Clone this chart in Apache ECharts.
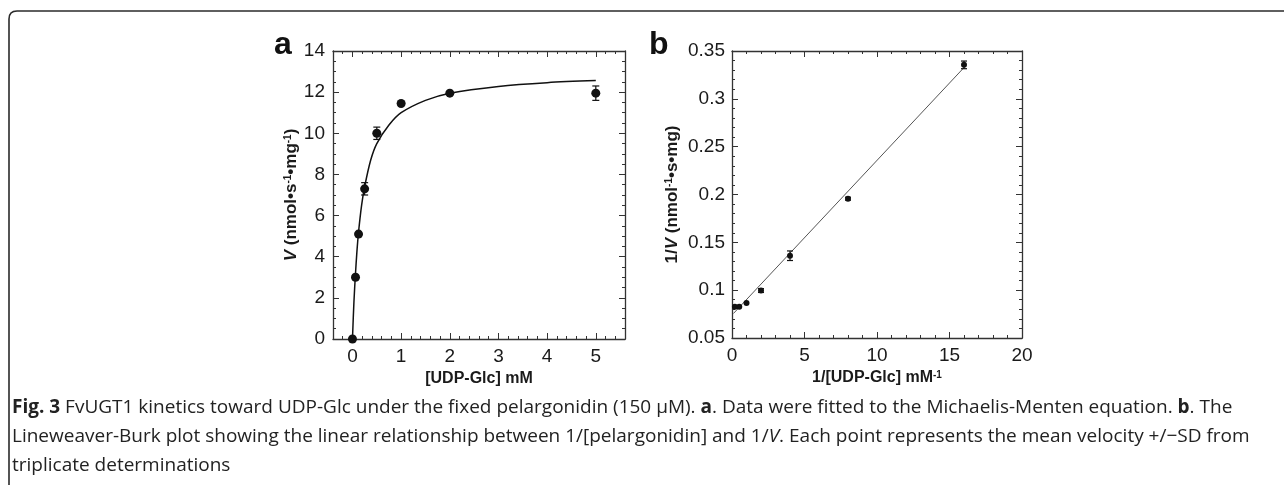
<!DOCTYPE html>
<html>
<head>
<meta charset="utf-8">
<script src="https://cdn.jsdelivr.net/npm/echarts@6/dist/echarts.min.js"></script>
<style>
  html, body { margin: 0; padding: 0; background: #fff; }
  #main { width: 1284px; height: 485px; }
</style>
</head>
<body>
<div id="main"></div>
<script>
// panel a: Michaelis-Menten
const concA = [0, 0.0625, 0.125, 0.25, 0.5, 1, 2, 5]
const velA = [0, 3.0, 5.1, 7.3, 10.0, 11.45, 11.95, 11.95]
const sdA = [0, 0, 0, 0.3, 0.3, 0, 0, 0.35]
// fitted curve
const fitX = [0, 0.03, 0.0625, 0.09, 0.125, 0.1875, 0.25, 0.375, 0.5, 0.75, 1, 1.5, 2, 3, 4, 5]
const fitV = [0, 1.8, 3.2, 4.2, 5.2, 6.5, 7.4, 8.7, 9.5, 10.4, 11.0, 11.6, 11.95, 12.28, 12.46, 12.56]
const ticksA = [0, 1, 2, 3, 4, 5]

// panel b: Lineweaver-Burk
const invConcB = [16, 8, 4, 2, 1, 0.5, 0.2]
const invVelB = [0.3355, 0.1956, 0.136, 0.0996, 0.0867, 0.0826, 0.0826]
const sdB = [0.004, 0.0015, 0.005, 0.002, 0, 0, 0]
const lineBX = [0.1, 16]
const lineBY = [0.0756, 0.3327]

const AXIS = '#333'
const TEXT = '#1a1a1a'
const tickFont = { fontFamily: 'Liberation Sans, Arial', fontSize: 19, color: TEXT }

var myChart = echarts.init(document.getElementById('main'))

const pairs = (xs, ys, es) => xs.map((x, i) => es ? [x, ys[i], es[i]] : [x, ys[i]])

const errorBars = (xi, yi, data, cap) => ({
  type: 'custom',
  xAxisIndex: xi,
  yAxisIndex: yi,
  data: data,
  z: 3,
  renderItem: function (params, api) {
    const x = api.value(0), y = api.value(1), e = api.value(2)
    if (!e) return null
    const top = api.coord([x, y + e])
    const bot = api.coord([x, y - e])
    const st = { stroke: '#111', lineWidth: 1.2 }
    return {
      type: 'group',
      children: [
        { type: 'line', shape: { x1: top[0], y1: top[1], x2: bot[0], y2: bot[1] }, style: st },
        { type: 'line', shape: { x1: top[0] - cap, y1: top[1], x2: top[0] + cap, y2: top[1] }, style: st },
        { type: 'line', shape: { x1: bot[0] - cap, y1: bot[1], x2: bot[0] + cap, y2: bot[1] }, style: st }
      ]
    }
  }
})

const line = { show: true, onZero: false, lineStyle: { color: AXIS, width: 1.3 } }
const noLine = { show: false, onZero: false }

const titleFont = (size) => ({
  fontFamily: 'Liberation Sans, Arial', fontWeight: 'bold', fontSize: size, color: TEXT,
  rich: {
    i: { fontStyle: 'italic', fontWeight: 'bold', fontSize: size, color: TEXT },
    s: { fontSize: Math.round(size * 0.6), fontWeight: 'bold', verticalAlign: 'top', color: TEXT }
  }
})

// x axes of panel a: minor ticks axis + major ticks axis
const xAxisA = (pos, labels) => [
  {
    gridIndex: 0, type: 'value', position: pos, min: -0.4, max: 5.6, interval: 0.2,
    axisLine: line, splitLine: { show: false },
    axisTick: { inside: true, length: 3, lineStyle: { color: AXIS } },
    axisLabel: labels ? Object.assign({ customValues: ticksA, margin: 8 }, tickFont) : { show: false },
    name: labels ? '[UDP-Glc] mM' : '', nameLocation: 'middle', nameGap: 32, nameMoveOverlap: false,
    nameTextStyle: titleFont(16)
  },
  {
    gridIndex: 0, type: 'value', position: pos, min: -0.4, max: 5.6,
    axisLine: noLine, splitLine: { show: false },
    axisTick: { inside: true, length: 6, customValues: ticksA, lineStyle: { color: AXIS } },
    axisLabel: { show: false }
  }
]

const borderStyle = { fill: null, stroke: '#2a2a2a', lineWidth: 1.6 }
const dot = { color: '#111', opacity: 1 }

const option = {
  animation: false,
  backgroundColor: '#fff',
  grid: [
    { left: 333, top: 51, width: 292, height: 288 },
    { left: 732, top: 51, width: 290, height: 287 }
  ],
  xAxis: [
    ...xAxisA('bottom', true),
    ...xAxisA('top', false),
    {
      gridIndex: 1, type: 'value', position: 'bottom', min: 0, max: 20, interval: 5,
      axisLine: line, splitLine: { show: false },
      axisTick: { inside: true, length: 6, lineStyle: { color: AXIS } },
      minorTick: { show: true, splitNumber: 5, length: 3, lineStyle: { color: AXIS } },
      axisLabel: Object.assign({ margin: 8 }, tickFont),
      name: '1/[UDP-Glc] mM{s|-1}', nameLocation: 'middle', nameGap: 32, nameMoveOverlap: false,
      nameTextStyle: titleFont(16)
    },
    {
      gridIndex: 1, type: 'value', position: 'top', min: 0, max: 20, interval: 5,
      axisLine: line, splitLine: { show: false },
      axisTick: { inside: true, length: 6, lineStyle: { color: AXIS } },
      minorTick: { show: true, splitNumber: 5, length: 3, lineStyle: { color: AXIS } },
      axisLabel: { show: false }
    }
  ],
  yAxis: [
    {
      gridIndex: 0, type: 'value', position: 'left', min: 0, max: 14, interval: 2,
      axisLine: line, splitLine: { show: false },
      axisTick: { inside: true, length: 6, lineStyle: { color: AXIS } },
      minorTick: { show: true, splitNumber: 4, length: 3, lineStyle: { color: AXIS } },
      axisLabel: Object.assign({ margin: 8 }, tickFont),
      name: '{i|V} (nmol•s{s|-1}•mg{s|-1})', nameLocation: 'middle', nameGap: 31, nameRotate: 90,
      nameTextStyle: titleFont(17)
    },
    {
      gridIndex: 0, type: 'value', position: 'right', min: 0, max: 14, interval: 2,
      axisLine: line, splitLine: { show: false },
      axisTick: { inside: true, length: 6, lineStyle: { color: AXIS } },
      minorTick: { show: true, splitNumber: 4, length: 3, lineStyle: { color: AXIS } },
      axisLabel: { show: false }
    },
    {
      gridIndex: 1, type: 'value', position: 'left', min: 0.05, max: 0.35, interval: 0.05,
      axisLine: line, splitLine: { show: false },
      axisTick: { inside: true, length: 6, lineStyle: { color: AXIS } },
      minorTick: { show: true, splitNumber: 5, length: 3, lineStyle: { color: AXIS } },
      axisLabel: Object.assign({ margin: 7 }, tickFont),
      name: '1/{i|V} (nmol{s|-1}•s•mg)', nameLocation: 'middle', nameGap: 51, nameRotate: 90,
      nameTextStyle: titleFont(17)
    },
    {
      gridIndex: 1, type: 'value', position: 'right', min: 0.05, max: 0.35, interval: 0.05,
      axisLine: line, splitLine: { show: false },
      axisTick: { inside: true, length: 6, lineStyle: { color: AXIS } },
      minorTick: { show: true, splitNumber: 5, length: 3, lineStyle: { color: AXIS } },
      axisLabel: { show: false }
    }
  ],
  series: [
    {
      type: 'line', xAxisIndex: 0, yAxisIndex: 0, data: pairs(fitX, fitV),
      smooth: 0.3, showSymbol: false, lineStyle: { color: '#111', width: 1.5 }, z: 2
    },
    errorBars(0, 0, pairs(concA, velA, sdA), 3.5),
    {
      type: 'scatter', xAxisIndex: 0, yAxisIndex: 0, data: pairs(concA, velA),
      symbol: 'circle', symbolSize: 9, itemStyle: dot, z: 4
    },
    {
      type: 'line', xAxisIndex: 4, yAxisIndex: 2, data: pairs(lineBX, lineBY),
      showSymbol: false, lineStyle: { color: '#555', width: 1 }, z: 2
    },
    errorBars(4, 2, pairs(invConcB, invVelB, sdB), 3),
    {
      type: 'scatter', xAxisIndex: 4, yAxisIndex: 2, data: pairs(invConcB, invVelB),
      symbol: 'circle', symbolSize: 6, itemStyle: dot, z: 4
    }
  ],
  graphic: [
    { type: 'line', silent: true, shape: { x1: 9, y1: 485, x2: 9, y2: 19 }, style: borderStyle },
    { type: 'bezierCurve', silent: true, shape: { x1: 9, y1: 19, cpx1: 9, cpy1: 11, x2: 17, y2: 11 }, style: borderStyle },
    { type: 'line', silent: true, shape: { x1: 17, y1: 11, x2: 1284, y2: 11 }, style: borderStyle },
    {
      type: 'text', left: 274, top: 29,
      style: { text: 'a', font: 'bold 32px "Liberation Sans", Arial', fill: '#111' }
    },
    {
      type: 'text', left: 649, top: 29,
      style: { text: 'b', font: 'bold 32px "Liberation Sans", Arial', fill: '#111' }
    },
    {
      type: 'text', left: 12, top: 393,
      style: {
        text: '{b|Fig. 3} FvUGT1 kinetics toward UDP-Glc under the fixed pelargonidin (150 μM). {b|a}. Data were fitted to the Michaelis-Menten equation. {b|b}. The\n' +
          'Lineweaver-Burk plot showing the linear relationship between 1/[pelargonidin] and 1/{i|V}. Each point represents the mean velocity +/−SD from\n' +
          'triplicate determinations',
        font: '19px "Open Sans"', fill: '#222', lineHeight: 29,
        rich: {
          b: { fontFamily: 'Open Sans', fontWeight: 'bold', fontSize: 19, fill: '#222', lineHeight: 29 },
          i: { fontFamily: 'Open Sans', fontStyle: 'italic', fontSize: 19, fill: '#222', lineHeight: 29 }
        }
      }
    }
  ]
}
myChart.setOption(option)
</script>
</body>
</html>
